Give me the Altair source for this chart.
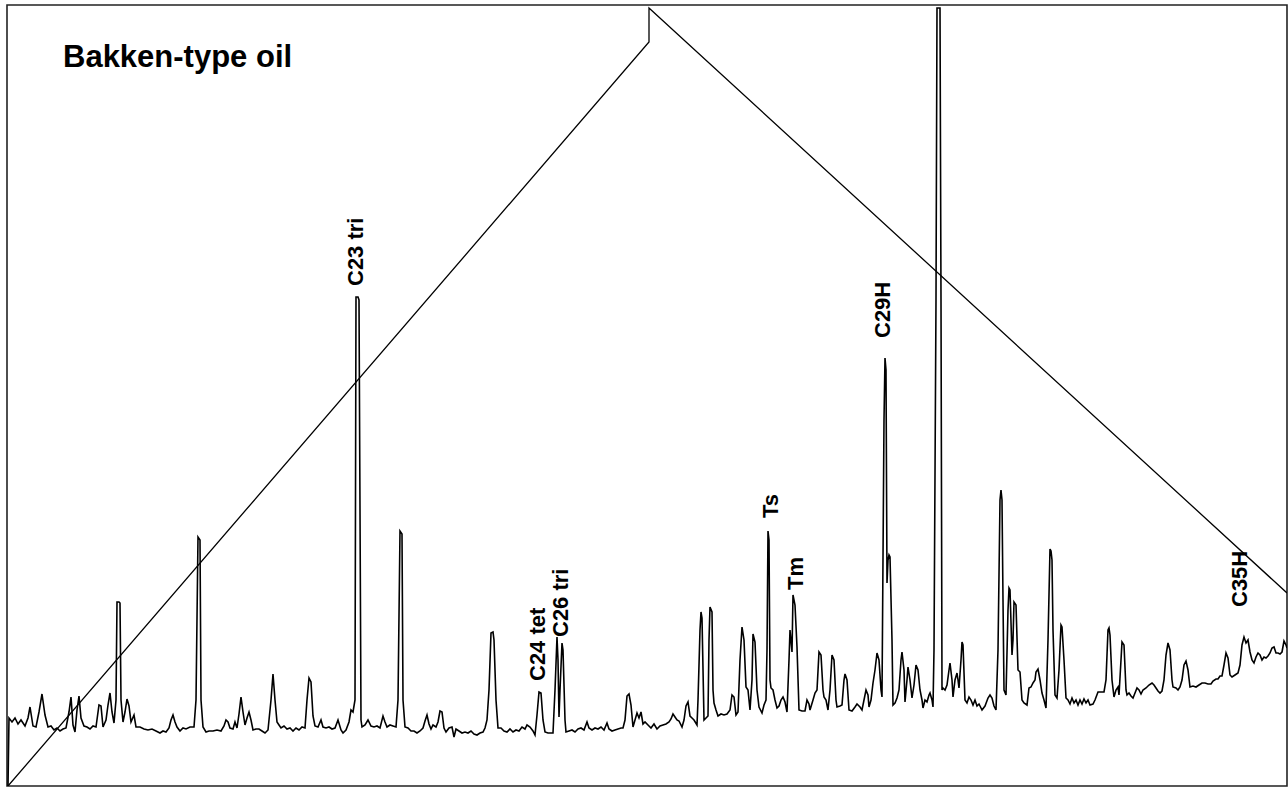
import altair as alt
import pandas as pd

# Chromatogram trace: scan number and detector response
scan = [
    8, 9, 12, 15, 18, 21, 25, 28, 30, 33, 36, 39, 42, 45, 48, 51, 54, 57, 60, 63,
    66, 69, 71, 73, 75, 77, 79, 81, 84, 87, 90, 93, 96, 99, 101, 103, 106, 108, 110, 112,
    114, 116, 117, 119, 120, 121, 123, 125, 127, 129, 131, 134, 136, 140, 144, 148, 152, 156, 160, 163,
    166, 169, 171, 173, 175, 177, 180, 183, 186, 190, 194, 196, 198, 200, 201, 203, 206, 209, 213, 217,
    221, 224, 226, 228, 230, 233, 235, 237, 239, 241, 243, 245, 247, 249, 251, 253, 256, 259, 262, 265,
    268, 271, 273, 275, 277, 279, 281, 284, 287, 290, 293, 296, 299, 302, 305, 307, 309, 311, 313, 315,
    318, 321, 323, 326, 329, 332, 335, 338, 341, 343, 346, 349, 351, 353, 355, 356, 358, 359, 361, 362,
    365, 368, 371, 374, 377, 380, 383, 385, 387, 390, 393, 396, 398, 400, 402, 403, 405, 408, 411, 414,
    417, 420, 423, 425, 427, 429, 431, 433, 436, 438, 440, 442, 444, 446, 449, 452, 454, 456, 459, 462,
    465, 468, 471, 474, 477, 480, 483, 485, 487, 489, 491, 493, 494, 496, 498, 501, 504, 507, 510, 513,
    516, 519, 522, 525, 527, 530, 533, 535, 537, 539, 541, 543, 545, 548, 551, 553, 555, 557, 558, 559,
    560, 562, 563, 565, 566, 569, 572, 575, 578, 581, 584, 587, 589, 592, 595, 598, 601, 604, 607, 609,
    612, 615, 618, 621, 623, 625, 627, 629, 631, 633, 635, 637, 639, 641, 643, 645, 648, 651, 654, 657,
    660, 663, 666, 669, 671, 673, 675, 677, 679, 682, 684, 686, 688, 690, 692, 694, 697, 698, 700, 701,
    702, 704, 706, 708, 709, 710, 712, 713, 714, 716, 718, 721, 724, 727, 730, 732, 734, 736, 738, 740,
    742, 744, 746, 748, 750, 752, 753, 755, 757, 759, 762, 764, 766, 767, 768, 769, 770, 771, 773, 775,
    777, 779, 781, 783, 785, 787, 789, 790, 792, 793, 795, 797, 799, 802, 805, 807, 809, 810, 813, 815,
    817, 819, 821, 823, 824, 826, 828, 830, 832, 834, 836, 837, 840, 842, 844, 845, 847, 849, 852, 855,
    857, 860, 862, 864, 866, 868, 869, 871, 873, 875, 877, 879, 881, 882, 884, 885, 886, 887, 888, 889,
    890, 892, 893, 895, 897, 899, 901, 902, 904, 905, 907, 908, 910, 912, 914, 916, 918, 920, 922, 923,
    925, 927, 929, 930, 932, 933, 934, 936, 937, 940, 941, 942, 943, 945, 947, 949, 950, 952, 953, 955,
    957, 958, 959, 961, 962, 963, 965, 967, 969, 971, 973, 975, 977, 979, 981, 982, 985, 988, 990, 992,
    994, 996, 998, 1000, 1001, 1002, 1003, 1004, 1006, 1008, 1009, 1010, 1012, 1013, 1014, 1016, 1018, 1020, 1022, 1024,
    1027, 1029, 1031, 1033, 1035, 1036, 1038, 1040, 1042, 1044, 1046, 1048, 1050, 1051, 1052, 1053, 1055, 1057, 1059, 1061,
    1062, 1064, 1066, 1068, 1070, 1072, 1074, 1076, 1078, 1080, 1082, 1084, 1086, 1088, 1090, 1093, 1095, 1098, 1101, 1104,
    1106, 1108, 1109, 1110, 1112, 1114, 1116, 1118, 1119, 1121, 1122, 1124, 1126, 1127, 1129, 1131, 1133, 1135, 1137, 1139,
    1141, 1143, 1146, 1149, 1152, 1154, 1156, 1158, 1160, 1162, 1164, 1166, 1168, 1170, 1172, 1173, 1176, 1178, 1180, 1182,
    1184, 1186, 1188, 1190, 1193, 1196, 1199, 1202, 1205, 1208, 1211, 1213, 1216, 1218, 1220, 1222, 1224, 1226, 1228, 1230,
    1232, 1235, 1238, 1240, 1242, 1244, 1246, 1248, 1250, 1252, 1254, 1256, 1258, 1260, 1262, 1264, 1266, 1268, 1270, 1272,
    1274, 1276, 1278, 1280, 1282, 1284, 1286, 1287,
]
response = [
    0, 68, 64, 68, 62, 66, 60, 68, 79, 60, 59, 74, 92, 71, 59, 60, 56, 58, 55, 57,
    58, 74, 89, 61, 54, 76, 90, 68, 60, 59, 57, 60, 59, 81, 80, 59, 66, 81, 93, 74,
    63, 86, 184, 184, 183, 86, 64, 74, 87, 80, 64, 71, 59, 59, 57, 56, 57, 55, 53, 55,
    54, 58, 66, 71, 64, 59, 55, 58, 57, 59, 59, 86, 249, 246, 86, 59, 54, 55, 55, 56,
    55, 60, 66, 64, 58, 57, 64, 58, 72, 89, 74, 61, 68, 74, 66, 56, 57, 57, 55, 53,
    56, 86, 112, 86, 64, 61, 58, 60, 57, 58, 55, 58, 56, 59, 58, 86, 108, 104, 70, 60,
    59, 66, 59, 58, 59, 57, 58, 66, 56, 53, 56, 64, 76, 74, 86, 489, 489, 486, 66, 59,
    61, 66, 60, 59, 60, 58, 70, 64, 59, 61, 60, 59, 86, 255, 252, 86, 59, 58, 55, 55,
    53, 55, 58, 65, 71, 62, 57, 61, 59, 64, 75, 74, 58, 54, 58, 59, 49, 57, 55, 53,
    54, 53, 55, 52, 51, 53, 54, 58, 66, 96, 153, 154, 146, 86, 58, 58, 55, 54, 57, 54,
    56, 55, 59, 57, 61, 59, 55, 51, 71, 94, 93, 66, 54, 53, 53, 53, 96, 149, 126, 69,
    96, 143, 136, 66, 54, 55, 56, 54, 57, 58, 56, 64, 58, 56, 58, 57, 59, 56, 63, 57,
    55, 56, 57, 58, 58, 66, 90, 92, 81, 59, 66, 73, 68, 74, 62, 64, 61, 58, 62, 57,
    60, 61, 62, 64, 67, 72, 69, 66, 65, 59, 66, 80, 84, 70, 68, 66, 61, 86, 156, 174,
    168, 66, 68, 70, 146, 179, 174, 96, 83, 76, 70, 72, 71, 72, 76, 91, 89, 71, 74, 126,
    159, 146, 99, 96, 76, 106, 152, 144, 96, 79, 73, 81, 86, 136, 255, 246, 106, 98, 96, 86,
    78, 80, 86, 89, 84, 74, 126, 156, 134, 191, 181, 139, 76, 75, 75, 86, 82, 76, 86, 93,
    96, 134, 131, 96, 89, 86, 76, 96, 131, 126, 86, 79, 80, 81, 106, 112, 106, 76, 75, 79,
    82, 79, 76, 86, 96, 91, 79, 86, 103, 116, 133, 126, 96, 89, 366, 428, 416, 203, 226, 231,
    229, 146, 81, 83, 88, 96, 126, 134, 116, 84, 106, 119, 106, 88, 101, 121, 116, 96, 86, 78,
    86, 84, 91, 93, 86, 79, 136, 486, 778, 778, 486, 96, 98, 96, 101, 116, 123, 106, 89, 106,
    113, 106, 98, 126, 144, 141, 86, 83, 89, 86, 81, 86, 80, 82, 78, 76, 80, 88, 91, 88,
    80, 76, 136, 286, 296, 286, 186, 96, 91, 176, 198, 196, 131, 146, 184, 181, 116, 114, 86, 83,
    81, 98, 99, 103, 106, 114, 117, 106, 93, 86, 78, 146, 237, 235, 226, 156, 91, 88, 116, 161,
    159, 126, 88, 86, 82, 88, 83, 86, 81, 86, 82, 87, 83, 86, 81, 82, 86, 94, 94, 94,
    106, 156, 158, 151, 106, 89, 96, 99, 91, 126, 144, 141, 96, 91, 93, 90, 88, 93, 98, 96,
    92, 96, 98, 101, 103, 101, 98, 95, 93, 95, 106, 131, 143, 136, 106, 99, 98, 96, 99, 106,
    121, 125, 116, 99, 100, 99, 101, 103, 103, 102, 102, 105, 107, 107, 110, 110, 121, 133, 128, 111,
    109, 111, 113, 121, 141, 149, 143, 146, 134, 126, 123, 129, 133, 131, 126, 129, 128, 130, 133, 138,
    139, 133, 133, 132, 134, 145, 141, 138,
]

# Oven temperature program drawn on the same frame
oven_scan = [8, 649, 649, 1287]
oven_level = [0, 744, 778, 193]

# Compound labels
peak_names = ["C23 tri", "C24 tet", "C26 tri", "Ts", "Tm", "C29H", "C35H"]
peak_scan = [363, 545, 568, 778, 803, 890, 1247]
peak_level = [500, 105, 149, 268, 196, 448, 179]

trace = pd.DataFrame({"scan": scan, "response": response, "i": range(len(scan))})
oven = pd.DataFrame({"scan": oven_scan, "response": oven_level, "i": range(len(oven_scan))})
labels = pd.DataFrame({"scan": peak_scan, "response": peak_level, "name": peak_names})

xs = alt.Scale(domain=[7, 1287], nice=False, zero=False)
ys = alt.Scale(domain=[0, 781], nice=False, zero=False)
X = alt.X("scan:Q", scale=xs, axis=None)
Y = alt.Y("response:Q", scale=ys, axis=None)

trace_line = alt.Chart(trace).mark_line(color="black", strokeWidth=1.6, clip=True).encode(
    x=X, y=Y, order="i:Q"
)
oven_line = alt.Chart(oven).mark_line(color="black", strokeWidth=1.3, clip=True).encode(
    x=X, y=Y, order="i:Q"
)
peak_text = alt.Chart(labels).mark_text(
    angle=270, align="left", baseline="alphabetic", font="Liberation Sans",
    fontWeight="bold", fontSize=22, color="black"
).encode(x=X, y=Y, text="name:N")

title_text = alt.Chart(pd.DataFrame({"t": ["Bakken-type oil"]})).mark_text(
    align="left", baseline="alphabetic", font="Liberation Sans",
    fontWeight="bold", fontSize=31, color="black"
).encode(x=alt.value(56), y=alt.value(62), text="t:N")

chart = alt.layer(oven_line, trace_line, peak_text, title_text).properties(
    width=1280, height=781,
    padding={"left": 7, "top": 5, "right": 1, "bottom": 2},
    autosize=alt.AutoSizeParams(type="none"),
    background="white",
).configure_view(stroke="#222222", strokeWidth=1.6)

chart.save("out.html", embed_options={"renderer": "svg", "actions": False})
